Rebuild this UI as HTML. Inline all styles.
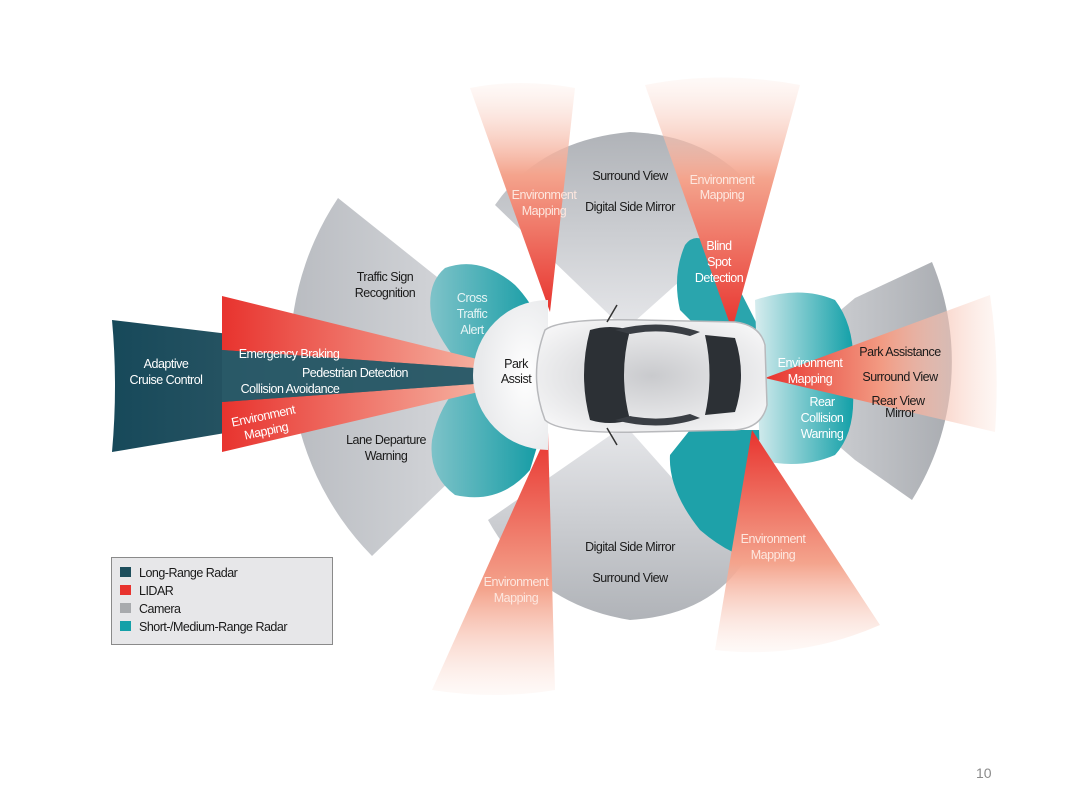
<!DOCTYPE html>
<html><head><meta charset="utf-8"><style>
html,body{margin:0;padding:0;background:#fff;}
svg{display:block;}
text{font-family:"Liberation Sans Narrow","Liberation Sans",sans-serif;font-size:12.5px;letter-spacing:-0.5px;}
</style></head><body>
<svg width="1080" height="810" viewBox="0 0 1080 810" xmlns="http://www.w3.org/2000/svg">
<defs>
<linearGradient id="gL" x1="0" y1="0" x2="1" y2="0"><stop offset="0" stop-color="#b9bcc1"/><stop offset="1" stop-color="#e4e5e8"/></linearGradient>
<linearGradient id="gR" x1="0" y1="0" x2="1" y2="0"><stop offset="0" stop-color="#dfe0e3"/><stop offset="1" stop-color="#a9acb1"/></linearGradient>
<linearGradient id="gT" x1="0" y1="0" x2="0" y2="1"><stop offset="0" stop-color="#b0b3b8"/><stop offset="1" stop-color="#e6e7ea"/></linearGradient>
<linearGradient id="gB" x1="0" y1="0" x2="0" y2="1"><stop offset="0" stop-color="#e6e7ea"/><stop offset="1" stop-color="#b0b3b8"/></linearGradient>
<linearGradient id="lr" x1="0" y1="0" x2="1" y2="0"><stop offset="0" stop-color="#17495a"/><stop offset="1" stop-color="#4a6b75"/></linearGradient>
<linearGradient id="redL" x1="0" y1="0" x2="1" y2="0"><stop offset="0" stop-color="#e8332e"/><stop offset="1" stop-color="#f8c8b5"/></linearGradient>
<linearGradient id="redR" x1="0" y1="0" x2="1" y2="0"><stop offset="0" stop-color="#e8332e"/><stop offset="0.5" stop-color="#f29a82"/><stop offset="1" stop-color="#fbe2d8" stop-opacity="0.3"/></linearGradient>
<linearGradient id="redUp" x1="0" y1="1" x2="0" y2="0"><stop offset="0" stop-color="#e8332e"/><stop offset="0.6" stop-color="#f4a48d"/><stop offset="1" stop-color="#fbe3da" stop-opacity="0.2"/></linearGradient>
<linearGradient id="redDn" x1="0" y1="0" x2="0" y2="1"><stop offset="0" stop-color="#e8332e"/><stop offset="0.6" stop-color="#f4a48d"/><stop offset="1" stop-color="#fbe3da" stop-opacity="0.2"/></linearGradient>
<linearGradient id="teal" x1="0" y1="0" x2="1" y2="0"><stop offset="0" stop-color="#7fc3c9"/><stop offset="1" stop-color="#0f9aa3"/></linearGradient>
<linearGradient id="tealR" x1="0" y1="0" x2="1" y2="0"><stop offset="0" stop-color="#d6ecee"/><stop offset="1" stop-color="#12a0a8"/></linearGradient>
<radialGradient id="car" cx="0.5" cy="0.5" r="0.6"><stop offset="0" stop-color="#c9cacd"/><stop offset="1" stop-color="#f5f5f6"/></radialGradient>
<radialGradient id="wc" cx="0.7" cy="0.5" r="0.6"><stop offset="0" stop-color="#ffffff"/><stop offset="1" stop-color="#e9eaec"/></radialGradient>
</defs>

<path d="M560 375 L338 198 A285 285 0 0 0 372 556 Z" fill="url(#gL)"/>
<path d="M625 330 L495 205 Q540 140 630 132 Q720 135 765 205 Z" fill="url(#gT)"/>
<path d="M625 425 L488 520 Q535 605 630 620 Q710 615 745 560 Z" fill="url(#gB)"/>
<path d="M760 378 L855 298 L932 262 A260 260 0 0 1 912 500 L855 460 Z" fill="url(#gR)"/>

<path d="M545 330 Q530 300 515 285 Q480 255 445 268 Q425 285 432 320 Q445 350 470 375 Q440 400 432 440 Q428 475 455 495 Q500 505 530 470 L545 420 Z" fill="url(#teal)"/>
<path d="M760 330 Q740 290 725 262 Q700 225 685 245 Q672 275 680 310 L700 330 Z" fill="#2aa5ad"/>
<path d="M765 430 Q740 470 755 510 L765 560 Q735 560 700 530 Q668 490 670 455 L690 430 Z" fill="#1ea1a9"/>
<path d="M755 300 Q800 285 835 300 Q858 330 852 380 Q858 430 835 455 Q800 470 760 460 Z" fill="url(#tealR)"/>

<path d="M112 320 L530 370 L530 382 L112 452 Q118 386 112 320 Z" fill="url(#lr)"/>
<path d="M222 296 L530 372 L222 350 Z" fill="url(#redL)"/>
<path d="M222 402 L530 380 L222 452 Z" fill="url(#redL)"/>
<path d="M222 350 L530 372 L530 380 L222 402 Z" fill="#2a5b68" opacity="0.85"/>

<path d="M550 312 L470 88 Q520 78 575 88 Z" fill="url(#redUp)"/>
<path d="M732 330 L645 85 Q720 70 800 85 Z" fill="url(#redUp)"/>
<path d="M548 432 L432 690 Q495 700 555 690 Z" fill="url(#redDn)"/>
<path d="M752 430 L715 650 Q800 660 880 625 Z" fill="url(#redDn)"/>
<path d="M765 378 L990 295 Q1000 360 995 432 Z" fill="url(#redR)"/>

<path d="M548 300 A75 75 0 0 0 548 450 Z" fill="url(#wc)"/>

<path d="M545 330 Q560 318 640 320 L735 322 Q760 325 765 345 L767 405 Q762 428 735 430 L640 432 Q560 434 545 420 Q528 375 545 330 Z" fill="url(#car)" stroke="#b8b9bc" stroke-width="1.5"/>
<path d="M590 330 Q610 324 630 330 Q618 375 630 420 Q610 426 590 420 Q578 375 590 330 Z" fill="#2c3035"/>
<path d="M705 335 L735 338 Q747 375 735 412 L705 415 Q714 375 705 335 Z" fill="#2c3035"/>
<path d="M615 330 Q660 318 700 332 L690 336 Q660 328 630 334 Z" fill="#3a3e44"/>
<path d="M615 420 Q660 432 700 418 L690 414 Q660 422 630 416 Z" fill="#3a3e44"/>
<line x1="607" y1="322" x2="617" y2="305" stroke="#333" stroke-width="1.5"/>
<line x1="607" y1="428" x2="617" y2="445" stroke="#333" stroke-width="1.5"/>

<g fill="#1a1a1a" text-anchor="middle">
<text x="385" y="281">Traffic Sign</text><text x="385" y="297">Recognition</text>
<text x="386" y="444">Lane Departure</text><text x="386" y="460">Warning</text>
<text x="516" y="368">Park</text><text x="516" y="383">Assist</text>
<text x="630" y="180">Surround View</text>
<text x="630" y="211">Digital Side Mirror</text>
<text x="630" y="551">Digital Side Mirror</text>
<text x="630" y="582">Surround View</text>
<text x="900" y="356">Park Assistance</text>
<text x="900" y="381">Surround View</text>
<text x="898" y="405">Rear View</text><text x="900" y="417">Mirror</text>
</g>
<g fill="#ffffff" text-anchor="middle">
<text x="166" y="368">Adaptive</text><text x="166" y="384">Cruise Control</text>
<text x="289" y="358">Emergency Braking</text>
<text x="355" y="377">Pedestrian Detection</text>
<text x="290" y="393">Collision Avoidance</text>
<text x="264" y="420" transform="rotate(-12 264 420)">Environment</text>
<text x="267" y="435" transform="rotate(-12 267 435)">Mapping</text>
<text x="472" y="302" fill="#e6f4f5">Cross</text><text x="472" y="318" fill="#e6f4f5">Traffic</text><text x="472" y="334" fill="#e6f4f5">Alert</text>
<text x="544" y="199" fill="#fde7df">Environment</text><text x="544" y="215" fill="#fde7df">Mapping</text>
<text x="722" y="184" fill="#fde7df">Environment</text><text x="722" y="199" fill="#fde7df">Mapping</text>
<text x="719" y="250">Blind</text><text x="719" y="266">Spot</text><text x="719" y="282">Detection</text>
<text x="810" y="367">Environment</text><text x="810" y="383">Mapping</text>
<text x="822" y="406">Rear</text><text x="822" y="422">Collision</text><text x="822" y="438">Warning</text>
<text x="773" y="543" fill="#fde7df">Environment</text><text x="773" y="559" fill="#fde7df">Mapping</text>
<text x="516" y="586" fill="#fde7df">Environment</text><text x="516" y="602" fill="#fde7df">Mapping</text>
</g>

<rect x="111.5" y="557.5" width="221" height="87" fill="#e7e7e9" stroke="#8a8a8a"/>
<rect x="120" y="567" width="11" height="10" fill="#1d4e5c"/>
<rect x="120" y="585" width="11" height="10" fill="#e8332e"/>
<rect x="120" y="603" width="11" height="10" fill="#a8aaad"/>
<rect x="120" y="621" width="11" height="10" fill="#14a0a8"/>
<g fill="#1a1a1a" style="font-size:12.5px">
<text x="139" y="577">Long-Range Radar</text>
<text x="139" y="595">LIDAR</text>
<text x="139" y="613">Camera</text>
<text x="139" y="631">Short-/Medium-Range Radar</text>
</g>
<text x="976" y="778" fill="#8a8a8a" style="font-family:'Liberation Sans',sans-serif;font-size:14px;letter-spacing:0">10</text>
</svg>
</body></html>
